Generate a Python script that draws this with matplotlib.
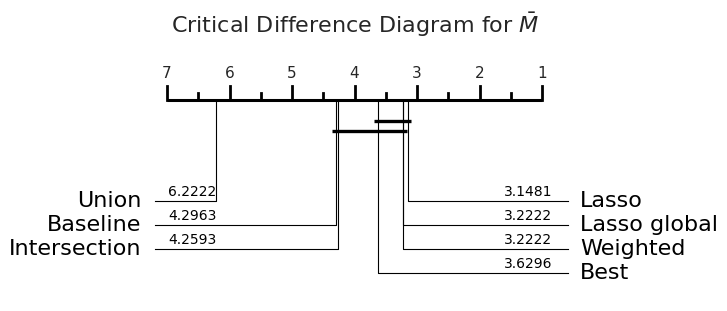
import matplotlib.pyplot as plt

# average ranks per method
left_names = ['Union', 'Baseline', 'Intersection']
left_ranks = [6.2222, 4.2963, 4.2593]
right_names = ['Lasso', 'Lasso global', 'Weighted', 'Best']
right_ranks = [3.1481, 3.2222, 3.2222, 3.6296]
# groups with no significant difference (low rank, high rank)
cliques = [(3.6296, 3.1481), (4.2963, 3.2222)]

PX = 62.5  # pixels per rank unit


def main():
    fig = plt.figure(figsize=(7.27, 3.11), dpi=100)
    ax = fig.add_axes([0, 0, 1, 1])
    ax.set_xlim(7 + 167 / PX, 7 - 560 / PX)
    ax.set_ylim(311, 0)
    ax.axis('off')

    axis_y = 100
    ax.plot([7, 1], [axis_y, axis_y], color='k', lw=2.2, solid_capstyle='butt')
    for r in range(1, 8):
        ax.plot([r, r], [axis_y, axis_y - 14], color='k', lw=2)
        ax.text(r, axis_y - 19, str(r), ha='center', va='bottom', fontsize=11, color='#262626')
    for r in [1.5, 2.5, 3.5, 4.5, 5.5, 6.5]:
        ax.plot([r, r], [axis_y, axis_y - 7], color='k', lw=2)

    row0, step = 201, 24
    line_l = 7 + 12 / PX
    line_r = 7 - 401 / PX
    for i, (name, rank) in enumerate(zip(left_names, left_ranks)):
        y = row0 + i * step
        ax.plot([rank, rank, line_l], [axis_y, y, y], color='k', lw=0.8)
        ax.text(line_l + 14 / PX, y, name, ha='right', va='center', fontsize=16)
        ax.text(line_l - 13 / PX, y - 2, '%.4f' % rank, ha='left', va='bottom', fontsize=10)
    for i, (name, rank) in enumerate(zip(right_names, right_ranks)):
        y = row0 + i * step
        ax.plot([rank, rank, line_r], [axis_y, y, y], color='k', lw=0.8)
        ax.text(line_r - 12 / PX, y, name, ha='left', va='center', fontsize=16)
        ax.text(line_r + 16 / PX, y - 2, '%.4f' % rank, ha='right', va='bottom', fontsize=10)

    side = 3.6 / PX
    for j, (lo, hi) in enumerate(cliques):
        y = 121 + j * 10
        ax.plot([lo + side, hi - side], [y, y], color='k', lw=2.4, solid_capstyle='butt')

    ax.text(3.99, 25, r'Critical Difference Diagram for $\bar{M}$', ha='center', va='center',
            fontsize=16, color='#262626')

    fig.savefig('out.png', dpi=100)


if __name__ == '__main__':
    main()
